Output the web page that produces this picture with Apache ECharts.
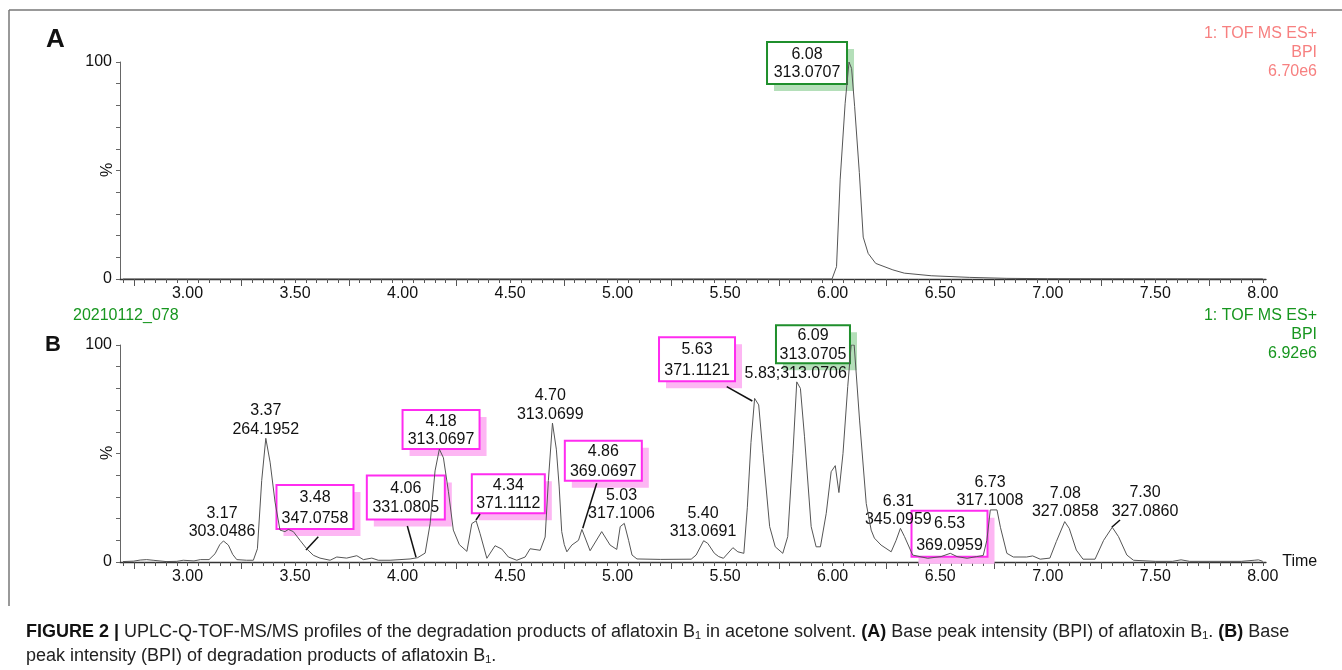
<!DOCTYPE html>
<html><head><meta charset="utf-8">
<script src="https://cdn.jsdelivr.net/npm/echarts@6/dist/echarts.min.js"></script>
<style>html,body{margin:0;padding:0;background:#fff}#c{width:1342px;height:670px}</style>
</head><body><div id="c"></div>
<script>
// ---------- data ----------
const timeA = [2.70, 5.997, 6.018, 6.035, 6.058, 6.076, 6.088, 6.102, 6.124, 6.142, 6.165, 6.20, 6.28, 6.333, 6.458, 6.635, 6.81, 7.00, 7.50, 8.00];
const bpiA  = [0, 0, 5.7, 46, 81, 100, 97, 79.6, 49, 19.3, 11.8, 7.2, 4.2, 2.7, 1.5, 0.75, 0.3, 0.15, 0.08, 0.05];

const timeB = [2.70, 2.75, 2.78, 2.81, 2.84, 2.90, 2.95, 2.98, 3.03, 3.06, 3.10, 3.128, 3.15, 3.167, 3.19, 3.21, 3.229, 3.275, 3.306, 3.325,
  3.345, 3.364, 3.384, 3.407, 3.43, 3.453, 3.469, 3.492, 3.523, 3.554, 3.585, 3.616, 3.663, 3.694, 3.74, 3.787, 3.818, 3.857, 3.887, 3.942,
  3.988, 4.035, 4.07, 4.105, 4.128, 4.151, 4.171, 4.19, 4.213, 4.236, 4.264, 4.299, 4.322, 4.342, 4.36, 4.392, 4.43, 4.461, 4.492, 4.531,
  4.57, 4.593, 4.64, 4.663, 4.678, 4.697, 4.715, 4.728, 4.74, 4.752, 4.764, 4.787, 4.818, 4.834, 4.872, 4.926, 4.965, 4.996, 5.012, 5.031,
  5.051, 5.067, 5.09, 5.20, 5.342, 5.365, 5.40, 5.419, 5.45, 5.47, 5.492, 5.536, 5.559, 5.587, 5.603, 5.62, 5.637, 5.656, 5.676, 5.707,
  5.733, 5.768, 5.791, 5.815, 5.833, 5.85, 5.869, 5.90, 5.923, 5.943, 5.97, 5.993, 6.012, 6.029, 6.048, 6.07, 6.086, 6.10, 6.125, 6.156,
  6.179, 6.194, 6.225, 6.272, 6.295, 6.315, 6.334, 6.372, 6.442, 6.504, 6.547, 6.578, 6.625, 6.67, 6.70, 6.717, 6.733, 6.764, 6.78, 6.81,
  6.84, 6.902, 6.93, 6.965, 7.01, 7.04, 7.079, 7.10, 7.133, 7.164, 7.22, 7.26, 7.30, 7.329, 7.368, 7.399, 7.50, 7.58, 7.62, 7.66,
  7.90, 7.96, 7.98, 8.00];
const bpiB = [0.2, 0.4, 0.9, 1.1, 0.8, 0.2, 0.3, 0.8, 0.5, 1.1, 1.1, 3.8, 8, 9.7, 7.8, 3.5, 1.1, 0.8, 0.8, 6.1,
  37.6, 57, 46, 27.6, 14.7, 14, 15, 14, 10, 6.1, 3.1, 1.8, 0.8, 2.3, 1.8, 2.9, 1.1, 1.8, 0.8, 0.8,
  1.1, 1.4, 2, 4.1, 17.6, 42, 52, 48, 32.6, 14.7, 8, 4.9, 17.7, 19, 13.2, 1.7, 7.5, 6, 2.3, 0.8,
  2.3, 6.1, 5.4, 11.5, 37.6, 64, 52, 35, 14, 8, 4.7, 7.8, 10, 15, 5.2, 14, 7.8, 5.8, 16.3, 17.8,
  10, 3.2, 1.4, 1.2, 1.3, 3.2, 9.8, 8.6, 4, 2.5, 1.7, 6.6, 4.7, 4, 25, 55, 75.4, 72.4, 50, 16.3,
  7, 4, 11.7, 50, 83, 80, 57.7, 16.3, 7, 7, 22.4, 41.6, 44.4, 32, 50, 80.8, 100, 100, 65.4, 27,
  14.7, 11, 7.8, 4.7, 10, 15.5, 11.7, 3.2, 1.7, 2.5, 4, 2.5, 1.7, 2.5, 3, 10, 24, 24, 16, 4,
  2.3, 2.3, 2.8, 1.3, 1.8, 9.4, 18.6, 15.5, 5.5, 1.3, 1.3, 10, 16, 11.7, 3.2, 0.8, 0.3, 0.3, 1, 0.3,
  0.3, 0.8, 1, 0.3];

// peak annotations (anchor time, anchor value, text lines, box kind)
const annoA_time  = [6.076];
const annoA_value = [100];
const annoA_text  = [['6.08', '313.0707']];
const annoA_box   = ['green'];

const annoB_time  = [3.167, 3.364, 3.469, 4.063, 4.171, 4.342, 4.697, 4.834, 5.031, 5.40, 5.637, 5.833, 6.093, 6.315, 6.547, 6.75, 7.079, 7.30];
const annoB_value = [9.7, 57, 15, 2, 52, 19, 64, 15, 17.8, 9.8, 75.4, 83, 100, 15.5, 4, 24, 18.6, 16];
const annoB_text  = [['3.17','303.0486'], ['3.37','264.1952'], ['3.48','347.0758'], ['4.06','331.0805'], ['4.18','313.0697'],
  ['4.34','371.1112'], ['4.70','313.0699'], ['4.86','369.0697'], ['5.03','317.1006'], ['5.40','313.0691'], ['5.63','371.1121'],
  ['5.83;313.0706'], ['6.09','313.0705'], ['6.31','345.0959'], ['6.53','369.0959'], ['6.73','317.1008'], ['7.08','327.0858'], ['7.30','327.0860']];
const annoB_box   = ['', '', 'pink', 'pink', 'pink', 'pink', '', 'pink', '', '', 'pink', '', 'green', '', 'pink', '', '', ''];

// axis tick labels
const xLabelValues = [3.00, 3.50, 4.00, 4.50, 5.00, 5.50, 6.00, 6.50, 7.00, 7.50, 8.00];
const xLongTickValues = [2.75, 3.25, 3.75, 4.25, 4.75, 5.25, 5.75, 6.25, 6.75, 7.25, 7.75];
const yLabelValues = [0, 100];
const headerA = ['1: TOF MS ES+', 'BPI', '6.70e6'];
const headerB = ['1: TOF MS ES+', 'BPI', '6.92e6'];
const sampleName = '20210112_078';

// ---------- layout (pixel offsets from anchor) ----------
const layoutA = [{dx:-42, dy:1, w:80, h:42, gap:18}];
const layoutB = [
  {dx:-1.4, dy:-18.5},
  {dx:0, dy:-18.3},
  {dx:26.6, dy:-22.5, w:77, h:44, gap:21, leader:[29.9, 7.3, 17.6, 20.6]},
  {dx:-10.3, dy:-60.2, w:78, h:44, gap:19, leader:[-8.8, -31.7, -0.1, -0.4]},
  {dx:1.7, dy:-19.7, w:77, h:39, gap:18.3},
  {dx:32.2, dy:-27.1, w:73, h:39, gap:18.3, leader:[3.9, -6.8, -0.1, -0.8]},
  {dx:-2.2, dy:-18.1},
  {dx:21.4, dy:-68.8, w:77, h:40, gap:19.4, leader:[14.8, -46.2, 0.8, -1.2]},
  {dx:-2.8, dy:-18.9},
  {dx:-0.6, dy:-18.2},
  {dx:-57.6, dy:-39.2, w:76, h:44, gap:20.4, leader:[-27.9, -11.7, -2.3, 2.6]},
  {dx:-1, dy:-8.6},
  {dx:-39.7, dy:-0.8, w:74, h:38, gap:18.3},
  {dx:-2.1, dy:-17.9},
  {dx:-0.8, dy:-19.5, w:76, h:46, gap:22},
  {dx:-4, dy:-18.1},
  {dx:0.6, dy:-19.1},
  {dx:32.8, dy:-25.1, leader:[7.8, -7.3, -0.5, 0]}
];

const FONT = '"Liberation Sans", Arial, Helvetica, sans-serif';
const BOX_STYLE = {
  pink:  {border:'#ff2cf0', shadow:'#fdb6f3'},
  green: {border:'#1f8f2c', shadow:'#b4dfb9'}
};
const X_MIN = 2.686, X_MAX = 8.015;
const xMinorTicks = [];
for (let k = 54; k <= 160; k++) xMinorTicks.push(+(k * 0.05).toFixed(2));
const yTicks = [0,10,20,30,40,50,60,70,80,90,100];

function zip(a, b){ return a.map((v, i) => [v, b[i]]); }

function makeRender(layout, texts, boxes){
  return function(params, api){
    const i = params.dataIndex;
    const p = api.coord([api.value(0), api.value(1)]);
    const L = layout[i];
    const cx = p[0] + L.dx, cy = p[1] + L.dy;
    const kids = [];
    const kind = boxes[i];
    if (kind){
      const st = BOX_STYLE[kind];
      kids.push({type:'rect', z2:1, shape:{x:cx - L.w/2 + 7, y:cy - L.h/2 + 7, width:L.w, height:L.h}, style:{fill:st.shadow}});
      kids.push({type:'rect', z2:2, shape:{x:cx - L.w/2, y:cy - L.h/2, width:L.w, height:L.h}, style:{fill:'#fff', stroke:st.border, lineWidth:2}});
    }
    const lines = texts[i];
    const gap = L.gap || 18.4;
    lines.forEach((s, k) => {
      const y = cy + (lines.length === 1 ? 0 : (k - 0.5) * gap) + (kind ? 1 : 0);
      kids.push({type:'text', z2:10, style:{text:s, x:cx, y:y, align:'center', verticalAlign:'middle', font:'16px ' + FONT, fill:'#111'}});
    });
    if (L.leader){
      kids.push({type:'line', z2:10, shape:{x1:p[0] + L.leader[0], y1:p[1] + L.leader[1], x2:p[0] + L.leader[2], y2:p[1] + L.leader[3]},
        style:{stroke:'#111', lineWidth:1.5}});
    }
    return {type:'group', children:kids};
  };
}

function xAxisMain(grid, withName){
  return {
    gridIndex:grid, type:'value', min:X_MIN, max:X_MAX,
    axisLine:{show:true, onZero:false, lineStyle:{color:'#333', width:1.3}},
    axisTick:{show:true, customValues:xMinorTicks, length:4, lineStyle:{color:'#555', width:1}},
    axisLabel:{customValues:xLabelValues, formatter:v => Number(v).toFixed(2), margin:7, fontSize:16, color:'#111', fontFamily:FONT},
    splitLine:{show:false},
    name: withName ? 'Time' : '', nameLocation:'end', nameGap:10,
    nameTextStyle:{fontSize:16, color:'#111', fontFamily:FONT, verticalAlign:'middle'}
  };
}
function xAxisLong(grid){
  return {
    gridIndex:grid, type:'value', min:X_MIN, max:X_MAX, position:'bottom',
    axisLine:{show:false}, axisLabel:{show:false}, splitLine:{show:false},
    axisTick:{show:true, customValues:xLongTickValues, length:7, lineStyle:{color:'#555', width:1}}
  };
}
function yAxisCfg(grid){
  return {
    gridIndex:grid, type:'value', min:0, max:100, interval:10,
    axisLine:{show:true, lineStyle:{color:'#666', width:1}},
    axisTick:{show:true, customValues:yTicks, length:4, lineStyle:{color:'#666'}},
    axisLabel:{customValues:yLabelValues, margin:8, fontSize:16, color:'#111', fontFamily:FONT},
    splitLine:{show:false}
  };
}

function headerTexts(lines, top, color){
  return lines.map((s, k) => ({
    type:'text', right:25, top: top + k * 19,
    style:{text:s, font:'16px ' + FONT, fill:color, align:'right'}
  }));
}

const chart = echarts.init(document.getElementById('c'), null, {renderer:'canvas'});
chart.setOption({
  animation:false,
  backgroundColor:'#fff',
  grid:[
    {left:120, width:1146, top:62, height:217},
    {left:120, width:1146, top:345, height:217}
  ],
  xAxis:[xAxisMain(0, false), xAxisMain(1, true), xAxisLong(0), xAxisLong(1)],
  yAxis:[yAxisCfg(0), yAxisCfg(1)],
  series:[
    {type:'custom', xAxisIndex:0, yAxisIndex:0, z:1, clip:false, silent:true,
     renderItem:makeRender(layoutA, annoA_text, annoA_box), data:zip(annoA_time, annoA_value)},
    {type:'custom', xAxisIndex:1, yAxisIndex:1, z:1, clip:false, silent:true,
     renderItem:makeRender(layoutB, annoB_text, annoB_box), data:zip(annoB_time, annoB_value)},
    {type:'line', xAxisIndex:0, yAxisIndex:0, z:3, showSymbol:false, silent:true,
     lineStyle:{color:'#555', width:1}, data:zip(timeA, bpiA)},
    {type:'line', xAxisIndex:1, yAxisIndex:1, z:3, showSymbol:false, silent:true,
     lineStyle:{color:'#555', width:1}, data:zip(timeB, bpiB)}
  ],
  graphic:[
    {type:'line', shape:{x1:9, y1:10, x2:1342, y2:10}, style:{stroke:'#777', lineWidth:1.5}},
    {type:'line', shape:{x1:9, y1:10, x2:9, y2:606}, style:{stroke:'#777', lineWidth:1.5}},
    {type:'text', left:46, top:27, style:{text:'A', font:'bold 26px ' + FONT, fill:'#111'}},
    {type:'text', left:45, top:334, style:{text:'B', font:'bold 22px ' + FONT, fill:'#111'}},
    {type:'text', x:108, y:170, rotation:Math.PI/2, style:{text:'%', x:0, y:0, align:'center', verticalAlign:'middle', font:'16px ' + FONT, fill:'#111'}},
    {type:'text', x:108, y:453, rotation:Math.PI/2, style:{text:'%', x:0, y:0, align:'center', verticalAlign:'middle', font:'16px ' + FONT, fill:'#111'}},
    {type:'text', left:73, top:308, style:{text:sampleName, font:'16px ' + FONT, fill:'#17961f'}},
    ...headerTexts(headerA, 26, '#f78080'),
    ...headerTexts(headerB, 308, '#17961f'),
    {type:'text', left:26, top:620, style:{
      text:'{b|FIGURE 2 |} UPLC-Q-TOF-MS/MS profiles of the degradation products of aflatoxin B₁ in acetone solvent. {b|(A)} Base peak intensity (BPI) of aflatoxin B₁. {b|(B)} Base\npeak intensity (BPI) of degradation products of aflatoxin B₁.',
      font:'18px ' + FONT, fill:'#222', lineHeight:24,
      rich:{b:{font:'bold 18px ' + FONT, fill:'#111', lineHeight:24}}
    }}
  ]
});
</script>
</body></html>
